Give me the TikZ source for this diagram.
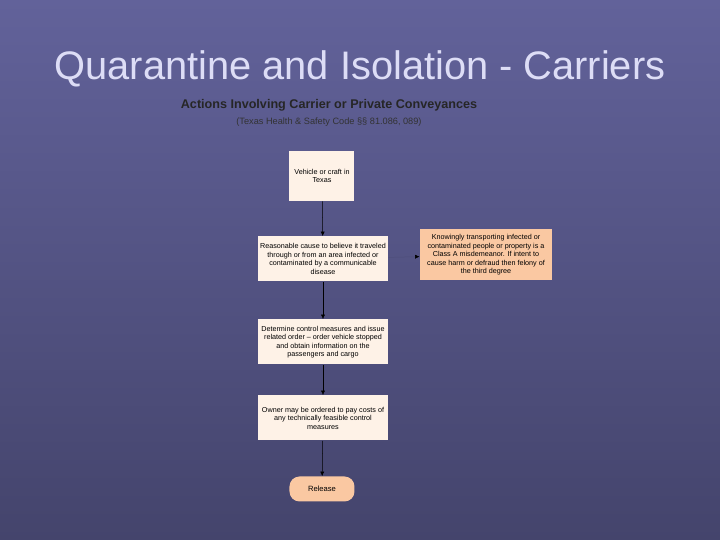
\documentclass[tikz,border=0pt]{standalone}
\usepackage{fontspec}
\setmainfont{Liberation Sans}
\usetikzlibrary{arrows.meta}

\definecolor{slidetop}{HTML}{62629A}
\definecolor{slidebot}{HTML}{44446C}
\definecolor{titlecol}{HTML}{DDDDF6}
\definecolor{boxcream}{HTML}{FEF2E7}
\definecolor{boxpeach}{HTML}{FAC8A2}

\tikzset{
  stepbox/.style={fill=boxcream, align=center, inner sep=1pt,
    font=\fontsize{3.6}{4.25}\selectfont},
  sidebox/.style={stepbox, fill=boxpeach},
  endbox/.style={fill=boxpeach, rounded corners=5pt, align=center,
    minimum width=32.5pt, minimum height=12.5pt, font=\fontsize{3.8}{4.2}\selectfont},
  flow/.style={-{Latex[length=2.2pt,width=2pt]}, line width=0.25pt, black}
}

\begin{document}
\begin{tikzpicture}[x=0.5pt, y=-0.5pt]
  \shade[top color=slidetop, bottom color=slidebot] (0,0) rectangle (720,540);
  \useasboundingbox (0,0) rectangle (720,540);

  % heading
  \node[text=titlecol, font=\fontsize{19.9}{22}\selectfont] (title) at (360,69) {Quarantine and Isolation - Carriers};
  \node[font=\bfseries\fontsize{6.3}{7}\selectfont, text=black!85] (chart) at (329,105) {Actions Involving Carrier or Private Conveyances};
  \node[font=\fontsize{4.6}{5}\selectfont, text=black!80] (code) at (329,122) {(Texas Health \& Safety Code §§ 81.086, 089)};

  % flow chart
  \node[stepbox, minimum width=32.5pt, minimum height=25pt] (vehicle) at (322,176) {Vehicle or craft in\\Texas};
  \node[stepbox, minimum width=65pt, minimum height=22.5pt] (cause) at (323,259) {Reasonable cause to believe it traveled\\through or from an area infected or\\contaminated by a communicable\\disease};
  \node[sidebox, minimum width=66pt, minimum height=25.5pt] (crime) at (486,255) {Knowingly transporting infected or\\contaminated people or property is a\\Class A misdemeanor. If intent to\\cause harm or defraud then felony of\\the third degree};
  \node[stepbox, minimum width=65pt, minimum height=22.5pt] (control) at (323,342) {Determine control measures and issue\\related order -- order vehicle stopped\\and obtain information on the\\passengers and cargo};
  \node[stepbox, minimum width=65pt, minimum height=22.5pt] (costs) at (323,418) {Owner may be ordered to pay costs of\\any technically feasible control\\measures};
  \node[endbox] (release) at (322,489) {Release};

  \draw[flow] (vehicle) -- (cause);
  \draw[flow, slidetop!80!black, -{Latex[length=2.2pt,width=2pt,black]}] (cause) -- (crime);
  \draw[flow] (cause) -- (control);
  \draw[flow] (control) -- (costs);
  \draw[flow] (costs) -- (release);
\end{tikzpicture}
\end{document}
